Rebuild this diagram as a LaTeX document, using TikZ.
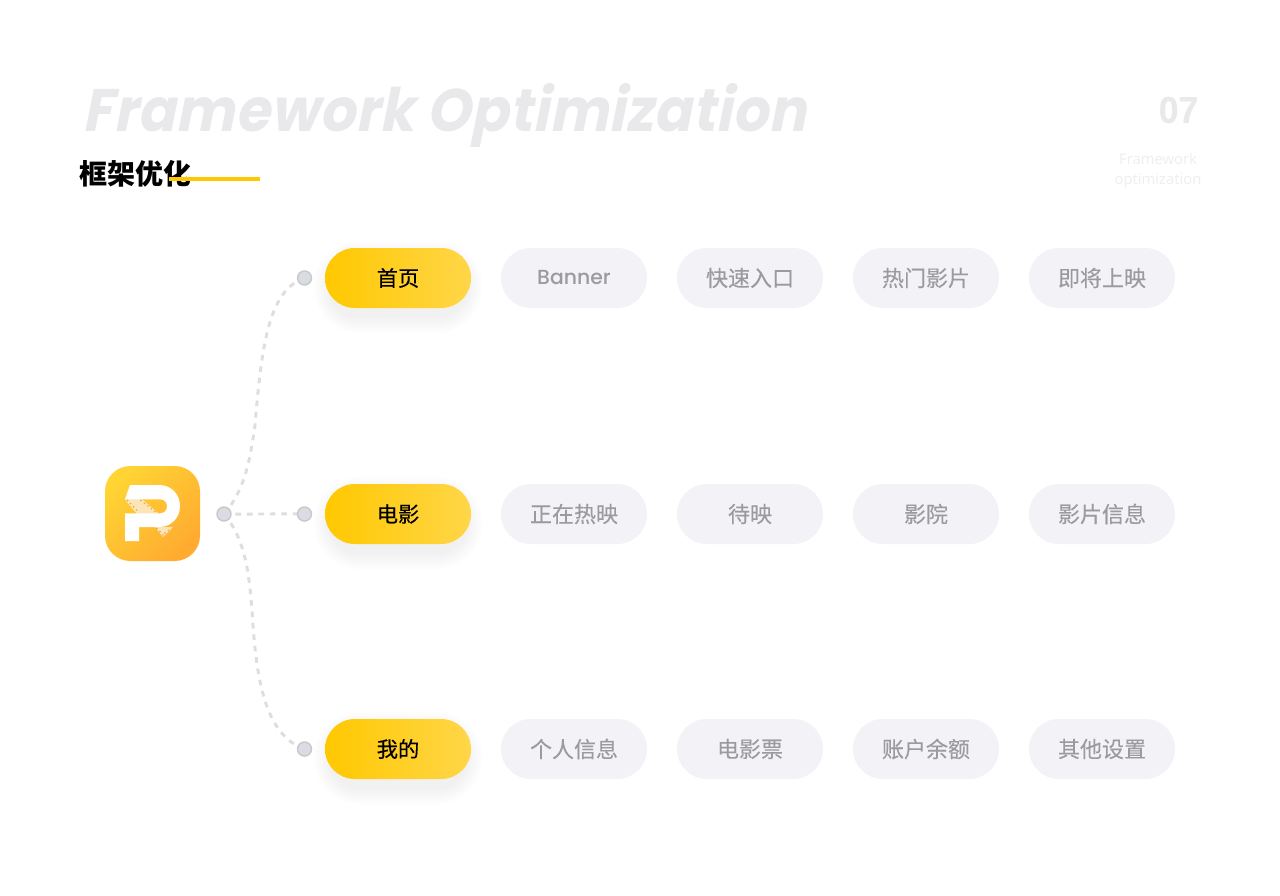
\documentclass[tikz,border=0pt]{standalone}
\usepackage{fontspec}
\usetikzlibrary{backgrounds}
\setmainfont{Poppins}
\newfontfamily\cjk[FakeBold=0.12]{Noto Sans CJK SC}
\newfontfamily\cjkb{Noto Sans CJK SC}
\newfontfamily\cjkm[FakeBold=0.3]{Noto Sans CJK SC}
\newfontfamily\titlefont[FakeSlant=0.2,FakeStretch=0.93,LetterSpace=0.8,UprightFont=*-Bold]{Poppins}
\newfontfamily\bannerfont[UprightFont=*-Medium]{Poppins}
\newfontfamily\numfont[FakeStretch=0.95,FakeBold=0.4]{Liberation Sans}
\newfontfamily\thin{Open Sans}
\definecolor{ygold}{HTML}{FFC800}
\definecolor{ylight}{HTML}{FFD648}
\definecolor{pillbg}{HTML}{F2F2F7}
\definecolor{pilltx}{HTML}{9A9A9F}
\definecolor{ttl}{HTML}{E9E9EB}
\definecolor{capc}{HTML}{EEEEF0}
\definecolor{dashc}{HTML}{DEDEDE}
\definecolor{dotf}{HTML}{DADCE4}
\definecolor{dotd}{HTML}{C9C9CD}
\definecolor{stripc}{HTML}{FBE4B8}
\definecolor{stripd}{HTML}{F79A28}
\definecolor{logotl}{HTML}{FFD433}
\definecolor{logobr}{HTML}{FFAB30}
\tikzset{
  pill/.style={minimum width=109.5pt,minimum height=45pt,rounded corners=22.4pt,inner sep=0pt},
  mainpill/.style={pill,left color=ygold,right color=ylight,text=black,font=\cjkm\fontsize{16}{18}\selectfont},
  subpill/.style={pill,fill=pillbg,text=pilltx,font=\cjk\fontsize{16.5}{18}\selectfont},
  dotn/.style={circle,fill=dotf,draw=dotd,line width=1.1pt,minimum size=10.5pt,inner sep=0pt},
  link/.style={draw=dashc,line width=2.2pt,dash pattern=on 4.2pt off 4.4pt},
  stripb/.style={fill=stripc},
  holes/.style={stripd,line width=1.2pt,line cap=round,dash pattern=on 0pt off 3.3pt}
}
\begin{document}
\begin{tikzpicture}[x=0.75pt,y=-0.75pt]
\useasboundingbox (0,0) rectangle (1280,895);
% shadows
\foreach \yy in {278,514,749}{
  \foreach \g in {1,...,14}{
    \pgfmathsetmacro{\rc}{22+\g*0.9}
    \fill[black,opacity=0.0055,rounded corners=\rc pt]
      (325-\g*1.2+5,\yy-30-\g*1.2+9) rectangle (471+\g*1.2-5,\yy+30+\g*1.2+9);
  }
}
% headings
\node[anchor=base west,inner sep=0pt,text=ttl,font=\titlefont\fontsize{45}{50}\selectfont] (title) at (82,132) {Framework Optimization};
\node[anchor=west,inner sep=0pt,text=black,font=\cjkb\bfseries\fontsize{21}{24}\selectfont] (subtitle) at (79.5,174) {框架优化};
\fill[ygold] (169,177) rectangle (260,181);
\node[inner sep=0pt,text=ttl,font=\numfont\bfseries\fontsize{28}{30}\selectfont] (num) at (1178.5,110) {07};
\node[anchor=base,inner sep=0pt,text=capc,font=\thin\fontsize{11.1}{14}\selectfont] (cap1) at (1158,165) {Framework};
\node[anchor=base,inner sep=0pt,text=capc,font=\thin\fontsize{11.1}{14}\selectfont] (cap2) at (1158,184) {optimization};
% logo
\shade[rounded corners=19pt,left color=logotl,right color=logobr,shading angle=45]
  (105,466) rectangle (200,561);
\fill[white,even odd rule]
  (130,485) -- (159,485) .. controls (171,485) and (180,494) .. (180,506)
  .. controls (180,518) and (171,527) .. (159,527) -- (139,527) -- (139,541) -- (125,541)
  -- (125,513.3) -- (136.7,513.3) -- (125,499.3) -- cycle
  (141.7,499.3) -- (160,499.3) .. controls (164,499.3) and (167,502) .. (167,506.3)
  .. controls (167,510.5) and (164,513.3) .. (160,513.3) -- (158,513.3) -- cycle;
\fill[stripb] (125,499.3) -- (141.7,499.3) -- (158,513.3) -- (136.7,513.3) -- cycle;
\fill[stripb] (155,527) -- (173,527) -- (163,537) -- cycle;
\draw[holes] (127.5,500.5) -- (139.5,513);
\draw[holes] (141,500.5) -- (156,512.5);
\draw[holes] (157,528.5) -- (163,535);
\draw[holes] (165,533) -- (171,528);
% nodes
\node[dotn] (root) at (224,514) {};
\node[dotn] (d1) at (304.5,278) {};
\node[dotn] (d2) at (304.5,514) {};
\node[dotn] (d3) at (304.5,749) {};
\coordinate (m1) at (255,425);
\coordinate (m3) at (252,610);
\node[mainpill] (a1) at (398,278) {首页};
\node[mainpill] (a2) at (398,514) {电影};
\node[mainpill] (a3) at (398,749) {我的};
\node[subpill,font=\bannerfont\fontsize{15.3}{18}\selectfont] (b1) at (574,278) {Banner};
\node[subpill] (c1) at (750,278) {快速入口};
\node[subpill] (e1) at (926,278) {热门影片};
\node[subpill] (f1) at (1102,278) {即将上映};
\node[subpill] (b2) at (574,514) {正在热映};
\node[subpill] (c2) at (750,514) {待映};
\node[subpill] (e2) at (926,514) {影院};
\node[subpill] (f2) at (1102,514) {影片信息};
\node[subpill] (b3) at (574,749) {个人信息};
\node[subpill] (c3) at (750,749) {电影票};
\node[subpill] (e3) at (926,749) {账户余额};
\node[subpill] (f3) at (1102,749) {其他设置};
\begin{scope}[on background layer]
  \fill[white] (0,0) rectangle (1280,895);
  \draw[link] (root.center) .. controls (245,490) and (250,460) .. (m1)
     .. controls (262,340) and (270,290) .. (d1.center);
  \draw[link] ([yshift=-0.15pt]root.center) -- ([yshift=0.15pt]d2.center);
  \draw[link] (root.center) .. controls (246,540) and (249,575) .. (m3)
     .. controls (256,680) and (265,735) .. (d3.center);
\end{scope}
\end{tikzpicture}
\end{document}
